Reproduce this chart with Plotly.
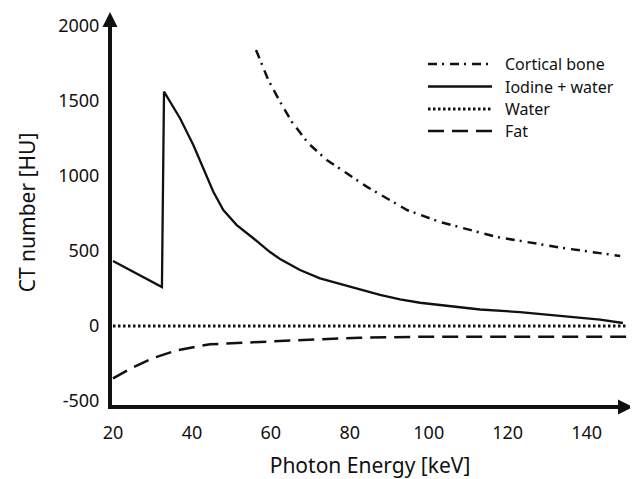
import plotly.graph_objects as go

# ---- data ----
energy_ticks = [20, 40, 60, 80, 100, 120, 140]
hu_ticks = [-500, 0, 500, 1000, 1500, 2000]
hu_tick_labels = ["-500", "0", "500", "1000", "1500", "2000"]

cortical_e = [56.24, 59.35, 62.32, 65.28, 69.49, 74.15, 79.22, 84.28, 94.5, 102.9, 117.3, 134.0, 148.5]
cortical_hu = [1840, 1640, 1495, 1362, 1218, 1107, 1018, 929, 773, 693, 593, 520, 467]

iodine_e = [20, 32.4, 32.93, 36.98, 40.35, 42.88, 45.42, 47.95, 51.35, 55.55, 59.78,
            62.32, 64.85, 67.38, 72.45, 77.52, 82.6, 87.65, 92.72, 97.79, 102.85,
            107.9, 113.0, 123.1, 133.3, 143.4, 149.2]
iodine_hu = [433, 260, 1562, 1385, 1207, 1051, 895, 773, 673, 585, 493,
             447, 410, 373, 318, 280, 240, 207, 178, 155, 140,
             125, 110, 93, 70, 43, 20]

water_e = [20, 151]
water_hu = [0, 0]

fat_e = [20, 24.6, 30.05, 35.96, 41.9, 44.6, 59.0, 75.7, 82.6, 100.3, 150]
fat_hu = [-349, -282, -215, -164, -133, -122, -104, -87, -78, -71, -71]

names = ["Cortical bone", "Iodine + water", "Water", "Fat"]

# ---- styles ----
FONT = "Noto Sans"
INK = "#111111"
styles = {
    "Cortical bone": dict(color=INK, width=2.5, dash="9px,5px,2px,6px"),
    "Iodine + water": dict(color=INK, width=2.3, dash="solid"),
    "Water": dict(color=INK, width=2.8, dash="2.5px,2.5px"),
    "Fat": dict(color=INK, width=2.5, dash="16px,8px"),
}
series = {
    "Cortical bone": (cortical_e, cortical_hu),
    "Iodine + water": (iodine_e, iodine_hu),
    "Water": (water_e, water_hu),
    "Fat": (fat_e, fat_hu),
}

fig = go.Figure()
for n in names:
    x, y = series[n]
    fig.add_trace(go.Scatter(x=x, y=y, mode="lines", name=n, line=styles[n],
                             showlegend=False))

# ---- layout geometry (pixels in the 638x479 window) ----
OFF = 8  # default page body margin
Wwin, Hwin = 638, 479
L, R, T, B = 112, 628, 20, 405
W, H = R - L, B - T
px_per_kev = 3.947
px_per_hu = 0.15
x0 = 19.75
x1 = x0 + W / px_per_kev
y1 = (326 - T) / px_per_hu
y0 = (326 - B) / px_per_hu


def pxx(p):
    return (p - L) / W


def pxy(p):
    return (B - p) / H


fig.update_layout(
    width=Wwin - OFF, height=Hwin - OFF,
    margin=dict(l=L - OFF, r=Wwin - R, t=T - OFF, b=Hwin - B, autoexpand=False),
    paper_bgcolor="white", plot_bgcolor="white",
    font=dict(family=FONT, color=INK),
    showlegend=False,
)
fig.update_xaxes(
    range=[x0, x1], tickvals=energy_ticks, ticks="", showgrid=False,
    zeroline=False, showline=True, linewidth=4, linecolor=INK,
    tickfont=dict(size=18, family=FONT, color=INK), ticklabelstandoff=8,
    title=dict(text="Photon Energy [keV]", font=dict(size=21, family=FONT, color=INK),
               standoff=28),
)
fig.update_yaxes(
    range=[y0, y1], tickvals=hu_ticks, ticktext=hu_tick_labels, ticks="",
    showgrid=False, zeroline=False, showline=True, linewidth=4, linecolor=INK,
    tickfont=dict(size=18, family=FONT, color=INK), ticklabelstandoff=5,
    title=dict(text="CT number [HU]", font=dict(size=21, family=FONT, color=INK),
               standoff=18),
)

# axis arrowheads
fig.add_annotation(xref="paper", yref="paper", x=pxx(110), y=pxy(12),
                   ax=0, ay=18, axref="pixel", ayref="pixel", text="",
                   showarrow=True, arrowhead=2, arrowsize=0.75, arrowwidth=4,
                   arrowcolor=INK)
fig.add_annotation(xref="paper", yref="paper", x=pxx(633), y=pxy(407),
                   ax=-18, ay=0, axref="pixel", ayref="pixel", text="",
                   showarrow=True, arrowhead=2, arrowsize=0.75, arrowwidth=4,
                   arrowcolor=INK)

# legend drawn beside the curves
rows = [64, 86.5, 109, 131]
for n, ry in zip(names, rows):
    st = styles[n]
    fig.add_shape(type="line", xref="paper", yref="paper",
                  x0=pxx(428), x1=pxx(492), y0=pxy(ry), y1=pxy(ry),
                  line=dict(color=st["color"], width=st["width"], dash=st["dash"]))
    fig.add_annotation(xref="paper", yref="paper", x=pxx(503), y=pxy(ry),
                       xanchor="left", yanchor="middle", text=n, showarrow=False,
                       font=dict(size=16, family=FONT, color=INK))

fig.write_html("out.html")
